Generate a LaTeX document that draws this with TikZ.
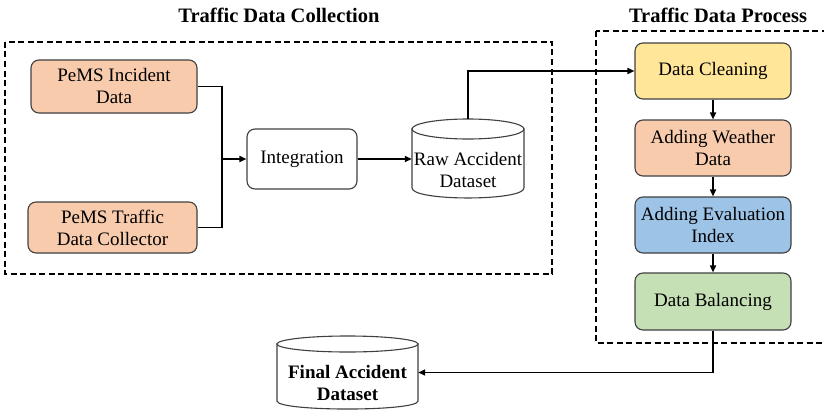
\documentclass[tikz,border=0pt]{standalone}
\usepackage{fontspec}
\setmainfont{Liberation Serif}
\usetikzlibrary{arrows.meta}

\definecolor{peach}{HTML}{F8CBAD}
\definecolor{sunny}{HTML}{FFE699}
\definecolor{sky}{HTML}{9DC3E6}
\definecolor{sage}{HTML}{C5E0B4}
\definecolor{edge}{HTML}{404040}

\tikzset{
  procbox/.style={draw=edge, line width=1.1pt, rounded corners=8pt, align=center,
    inner sep=0pt, font=\fontsize{19}{22}\selectfont},
  drumtext/.style={inner sep=0pt, align=center, font=\fontsize{19}{22}\selectfont},
  drumline/.style={draw=edge, line width=1.1pt, fill=white},
  flow/.style={line width=1.6pt, -{Triangle[length=7pt,width=6pt]}},
  plainflow/.style={line width=1.6pt},
  group/.style={line width=1.5pt, dash pattern=on 6pt off 3.5pt},
  heading/.style={font=\bfseries\fontsize{20.5}{24}\selectfont, inner sep=0pt}
}

\begin{document}
\begin{tikzpicture}[x=1pt, y=-1pt]
\useasboundingbox (0,0) rectangle (824,412);

% group frames and their headings
\draw[group] (5,42) rectangle (552,274);
\draw[group] (596,31) rectangle (832,343);
\node[heading] (tcol) at (279,15) {Traffic Data Collection};
\node[heading] (tproc) at (718,15) {Traffic Data Process};

% collection stage
\node[procbox, fill=peach, minimum width=166pt, minimum height=53pt] (inc) at (114,86.5) {PeMS Incident\\Data};
\node[procbox, fill=peach, minimum width=169pt, minimum height=51pt] (col) at (112.5,227.5) {PeMS Traffic\\Data Collector};
\node[procbox, fill=white, minimum width=110pt, minimum height=60pt] (integ) at (302,159) {Integration};

% raw dataset drum
\path[drumline]
  (412,129) -- (412,188) .. controls (412,201.3) and (524,201.3) .. (524,188) -- (524,129) -- cycle;
\path[drumline] (468,129) ellipse [x radius=56pt, y radius=10pt];
\node[drumtext, minimum width=112pt, minimum height=79pt] (raw) at (468,158.5) {};
\node[drumtext] (rawlabel) at (468,170) {Raw Accident\\Dataset};

% processing stage
\node[procbox, fill=sunny, minimum width=156pt, minimum height=56pt] (clean) at (713,71) {Data Cleaning};
\node[procbox, fill=peach, minimum width=156pt, minimum height=56pt] (weather) at (713,148) {Adding Weather\\Data};
\node[procbox, fill=sky, minimum width=156pt, minimum height=56pt] (eval) at (713,225) {Adding Evaluation\\Index};
\node[procbox, fill=sage, minimum width=156pt, minimum height=57pt] (bal) at (713,301.5) {Data Balancing};

% final dataset drum
\path[drumline]
  (277,344) -- (277,401) .. controls (277,411.7) and (418,411.7) .. (418,401) -- (418,344) -- cycle;
\path[drumline] (347.5,344) ellipse [x radius=70.5pt, y radius=8pt];
\node[drumtext, minimum width=141pt, minimum height=73pt] (final) at (347.5,372.5) {};
\node[drumtext, font=\bfseries\fontsize{19}{22}\selectfont] (finallabel) at (347.5,383) {Final Accident\\Dataset};

% connectors
\coordinate (join) at (222,159);
\draw[plainflow] (inc.east) -| (join);
\draw[plainflow] (col.east) -| (join);
\draw[flow] (join) -- (integ.west);
\draw[flow] (integ.east) -- (raw.west |- integ.east);
\draw[flow] (raw.north) |- (clean.west);
\draw[flow] (clean.south) -- (weather.north);
\draw[flow] (weather.south) -- (eval.north);
\draw[flow] (eval.south) -- (bal.north);
\draw[flow] (bal.south) |- (final.east);
\end{tikzpicture}
\end{document}
